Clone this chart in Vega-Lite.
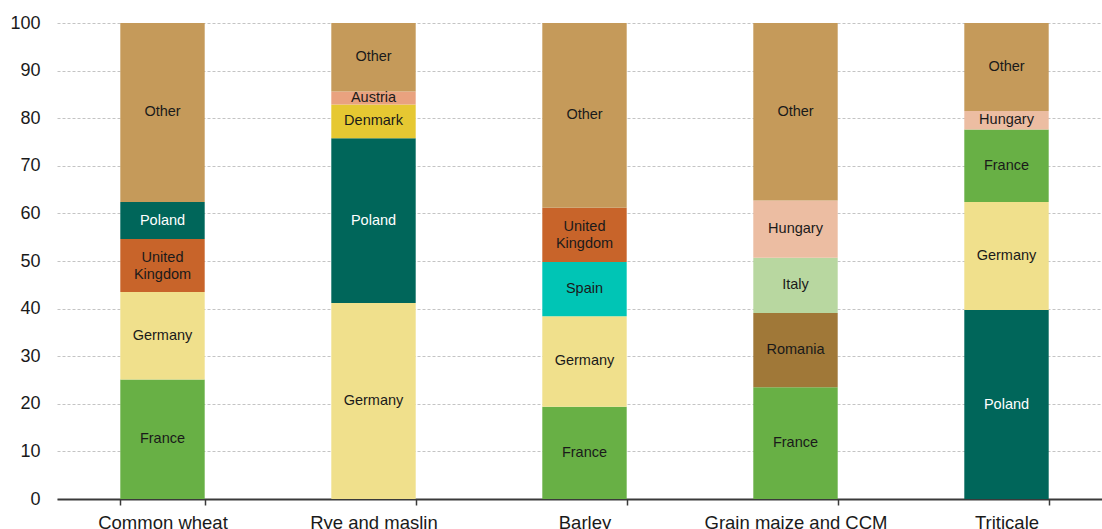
{
  "$schema": "https://vega.github.io/schema/vega-lite/v6.json",
  "autosize": {"type": "none"},
  "padding": {"left": 57, "top": 23, "right": 0, "bottom": 30},
  "width": 1045,
  "height": 476,
  "background": "white",
  "config": {
    "view": {"stroke": null},
    "font": "Liberation Sans"
  },
  "data": {
    "values": [
      {"crop": "Common wheat", "country": "France", "rank": 1, "share": 25.1},
      {"crop": "Common wheat", "country": "Germany", "rank": 2, "share": 18.4},
      {"crop": "Common wheat", "country": "United Kingdom", "rank": 3, "share": 11.1},
      {"crop": "Common wheat", "country": "Poland", "rank": 4, "share": 7.8},
      {"crop": "Common wheat", "country": "Other", "rank": 5, "share": 37.6},
      {"crop": "Rye and maslin", "country": "Germany", "rank": 1, "share": 41.2},
      {"crop": "Rye and maslin", "country": "Poland", "rank": 2, "share": 34.6},
      {"crop": "Rye and maslin", "country": "Denmark", "rank": 3, "share": 7.1},
      {"crop": "Rye and maslin", "country": "Austria", "rank": 4, "share": 2.7},
      {"crop": "Rye and maslin", "country": "Other", "rank": 5, "share": 14.4},
      {"crop": "Barley", "country": "France", "rank": 1, "share": 19.4},
      {"crop": "Barley", "country": "Germany", "rank": 2, "share": 19.0},
      {"crop": "Barley", "country": "Spain", "rank": 3, "share": 11.4},
      {"crop": "Barley", "country": "United Kingdom", "rank": 4, "share": 11.4},
      {"crop": "Barley", "country": "Other", "rank": 5, "share": 38.8},
      {"crop": "Grain maize and CCM", "country": "France", "rank": 1, "share": 23.5},
      {"crop": "Grain maize and CCM", "country": "Romania", "rank": 2, "share": 15.6},
      {"crop": "Grain maize and CCM", "country": "Italy", "rank": 3, "share": 11.6},
      {"crop": "Grain maize and CCM", "country": "Hungary", "rank": 4, "share": 12.0},
      {"crop": "Grain maize and CCM", "country": "Other", "rank": 5, "share": 37.3},
      {"crop": "Triticale", "country": "Poland", "rank": 1, "share": 39.7},
      {"crop": "Triticale", "country": "Germany", "rank": 2, "share": 22.7},
      {"crop": "Triticale", "country": "France", "rank": 3, "share": 15.2},
      {"crop": "Triticale", "country": "Hungary", "rank": 4, "share": 3.9},
      {"crop": "Triticale", "country": "Other", "rank": 5, "share": 18.5}
    ]
  },
  "encoding": {
    "x": {
      "field": "crop",
      "type": "nominal",
      "sort": null,
      "scale": {"range": [0, 1055], "paddingInner": 0.6, "paddingOuter": 0.3},
      "axis": {
        "title": null,
        "labelAngle": 0,
        "labelFontSize": 18.5,
        "labelLimit": 400,
        "labelColor": "#1a1a1a",
        "labelPadding": 8,
        "tickBand": "extent",
        "tickSize": 6,
        "tickColor": "#3a3a3a",
        "tickWidth": 1.5,
        "domainColor": "#3a3a3a",
        "domainWidth": 2,
        "grid": false
      }
    },
    "y": {
      "field": "share",
      "type": "quantitative",
      "stack": "zero",
      "scale": {"domain": [0, 100], "nice": false},
      "axis": {
        "title": null,
        "values": [0, 10, 20, 30, 40, 50, 60, 70, 80, 90, 100],
        "labelFontSize": 18,
        "labelColor": "#1a1a1a",
        "labelPadding": 17,
        "domain": false,
        "ticks": false,
        "grid": true,
        "gridColor": "#c4c4c4",
        "gridDash": [3, 2],
        "gridWidth": 1
      }
    },
    "order": {"field": "rank", "type": "quantitative"}
  },
  "layer": [
    {
      "mark": {"type": "bar"},
      "encoding": {
        "color": {
          "field": "country",
          "type": "nominal",
          "legend": null,
          "scale": {
            "domain": ["Other", "Poland", "United Kingdom", "Germany", "France", "Austria", "Denmark", "Spain", "Hungary", "Italy", "Romania"],
            "range": ["#C59A5A", "#00665A", "#C8642A", "#F0E08C", "#68B045", "#E9A27F", "#E6C832", "#00C5B5", "#ECBDA2", "#B8D7A0", "#A07838"]
          }
        }
      }
    },
    {
      "mark": {"type": "text", "fontSize": 14.5, "baseline": "middle", "align": "center"},
      "encoding": {
        "y": {"field": "share", "type": "quantitative", "stack": "zero", "bandPosition": 0.5},
        "text": {
          "condition": {"test": "datum.country !== 'United Kingdom'", "field": "country"},
          "value": ""
        },
        "color": {
          "condition": {"test": "datum.country === 'Poland'", "value": "#ffffff"},
          "value": "#1a1a1a"
        }
      }
    },
    {
      "mark": {"type": "text", "fontSize": 14.5, "lineBreak": " ", "lineHeight": 17, "baseline": "middle", "align": "center", "dy": -8, "color": "#1a1a1a"},
      "encoding": {
        "y": {"field": "share", "type": "quantitative", "stack": "zero", "bandPosition": 0.5},
        "text": {
          "condition": {"test": "datum.country === 'United Kingdom'", "field": "country"},
          "value": ""
        }
      }
    }
  ]
}
